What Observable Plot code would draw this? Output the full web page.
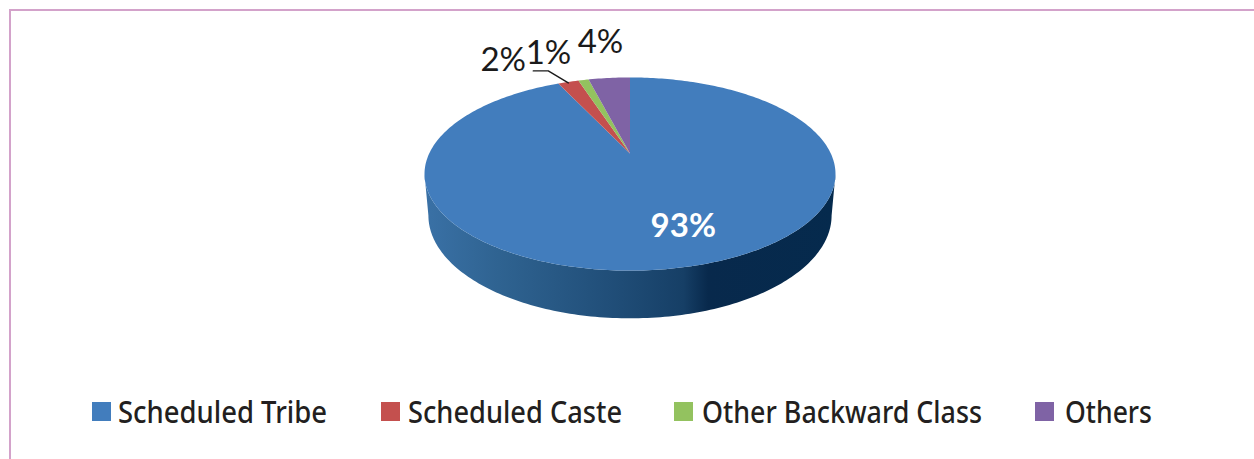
<!DOCTYPE html>
<html>
<head>
<meta charset="utf-8">
<script src="https://cdn.jsdelivr.net/npm/d3@7"></script>
<script src="https://cdn.jsdelivr.net/npm/@observablehq/plot@0.6"></script>
<style>
  html, body { margin: 0; padding: 0; background: #fff; width: 1254px; height: 459px; overflow: hidden; }
  #frame { position: absolute; left: 9px; top: 9px; right: 0; bottom: 0; border-left: 2px solid #d3a2ca; border-top: 2px solid #d3a2ca; }
  #chart { position: absolute; left: 0; top: 0; }
  #chart svg { display: block; background: transparent; }
  #legend { position: absolute; left: 0; top: 385px; width: 1254px; height: 74px; font-family: "Noto Sans", sans-serif; font-size: 30px; font-weight: 500; color: #231f20; }
  .swatch { position: absolute; top: 17px; width: 19px; height: 19px; }
  .label { position: absolute; top: 9px; line-height: 36px; white-space: nowrap; transform-origin: left center; }
</style>
</head>
<body>
<div id="frame"></div>
<div id="chart"></div>
<div id="legend"></div>
<script>
const categories = ["Scheduled Tribe", "Scheduled Caste", "Other Backward Class", "Others"];
const shares = [93, 2, 1, 4];
const shareLabels = ["93%", "2%", "1%", "4%"];
const colors = ["#427dbd", "#c4504e", "#93c25f", "#7f63a5"];

// layout
const W = 1254, H = 385;
const topFace = {cx: 629.5, cy: 153, a: 200.8, b: 92.2, p: 0.2125};
const baseFace = {cx: 629.5, cy: 193, a: 197, b: 98.3, p: 0.2125};
const labelOffsets = [[-2, -41], [-65, -21], [-35, -27], [-8.7, -36]];
const labelColors = ["#ffffff", "#1a1a1a", "#1a1a1a", "#1a1a1a"];
const legendSwatchX = [92, 381, 674, 1035];
const legendTextX = [118, 408, 702, 1065];
const legendTextWidth = [209, 214, 280, 87];

// perspective projection of a point on the pie rim; angle is clockwise from the top
function rim(face, angle) {
  const X = Math.sin(angle), Y = Math.cos(angle), d = 1 + face.p * Y;
  return {x: face.cx + face.a * X / d, y: face.cy - face.b * Y / d};
}

const arcs = d3.pie().sort(null)(shares);
const degrees = d3.range(0, 361).map(d => d * Math.PI / 180);

const slices = arcs.flatMap((arc, i) => {
  const inside = degrees.filter(t => t > arc.startAngle && t < arc.endAngle);
  const along = [arc.startAngle, ...inside, arc.endAngle];
  return [
    {x: topFace.cx, y: topFace.cy, category: categories[i]},
    ...along.map(t => ({...rim(topFace, t), category: categories[i]}))
  ];
});

// the visible wall: front half of the rim between both widest points
const widest = Math.acos(-topFace.p);
const front = degrees.filter(t => t >= widest && t <= 2 * Math.PI - widest);
const wall = [
  ...[widest, ...front, 2 * Math.PI - widest].map(t => rim(topFace, t)),
  ...[2 * Math.PI - widest, ...[...front].reverse(), widest].map(t => rim(baseFace, t))
];

const labelData = arcs.map((arc, i) => {
  const p = rim(topFace, (arc.startAngle + arc.endAngle) / 2);
  return {x: p.x + labelOffsets[i][0], y: p.y + labelOffsets[i][1], text: shareLabels[i], color: labelColors[i], big: i === 0};
});

const redMid = rim(topFace, (arcs[1].startAngle + arcs[1].endAngle) / 2);
const leader = [
  {x: redMid.x - 35, y: redMid.y - 11},
  {x: redMid.x - 20, y: redMid.y - 11},
  {x: redMid.x, y: redMid.y + 1}
];

const defs = () => {
  const ns = "http://www.w3.org/2000/svg";
  const d = document.createElementNS(ns, "defs");
  const g = document.createElementNS(ns, "linearGradient");
  g.setAttribute("id", "wallShade");
  [[0, "#3a71a6"], [0.18, "#2f6391"], [0.48, "#1f4c76"], [0.63, "#163f66"], [0.69, "#08294c"], [1, "#052a4d"]].forEach(([o, c]) => {
    const s = document.createElementNS(ns, "stop");
    s.setAttribute("offset", o);
    s.setAttribute("stop-color", c);
    g.appendChild(s);
  });
  d.appendChild(g);
  return d;
};

const chart = Plot.plot({
  width: W,
  height: H,
  margin: 0,
  axis: null,
  x: {domain: [0, W], range: [0, W]},
  y: {domain: [0, H], range: [0, H]},
  color: {domain: categories, range: colors},
  marks: [
    defs,
    Plot.line(wall, {x: "x", y: "y", fill: "url(#wallShade)", stroke: "none"}),
    Plot.line(slices, {x: "x", y: "y", z: "category", fill: "category", stroke: "none"}),
    Plot.line(leader, {x: "x", y: "y", stroke: "#1a1a1a", strokeWidth: 1.4}),
    Plot.text(labelData.filter(d => d.big), {x: "x", y: "y", text: "text", fill: "color", fontSize: 33, fontWeight: 700, fontFamily: "Lato, sans-serif", textAnchor: "middle"}),
    Plot.text(labelData.filter(d => !d.big), {x: "x", y: "y", text: "text", fill: "color", fontSize: 33, fontFamily: "Lato, sans-serif", textAnchor: "middle"})
  ]
});
document.getElementById("chart").appendChild(chart);

const legend = document.getElementById("legend");
categories.forEach((name, i) => {
  const s = document.createElement("div");
  s.className = "swatch";
  s.style.left = legendSwatchX[i] + "px";
  s.style.background = colors[i];
  legend.appendChild(s);
  const t = document.createElement("div");
  t.className = "label";
  t.style.left = legendTextX[i] + "px";
  t.textContent = name;
  legend.appendChild(t);
  t.style.transform = `scaleX(${legendTextWidth[i] / t.getBoundingClientRect().width})`;
});
</script>
</body>
</html>
